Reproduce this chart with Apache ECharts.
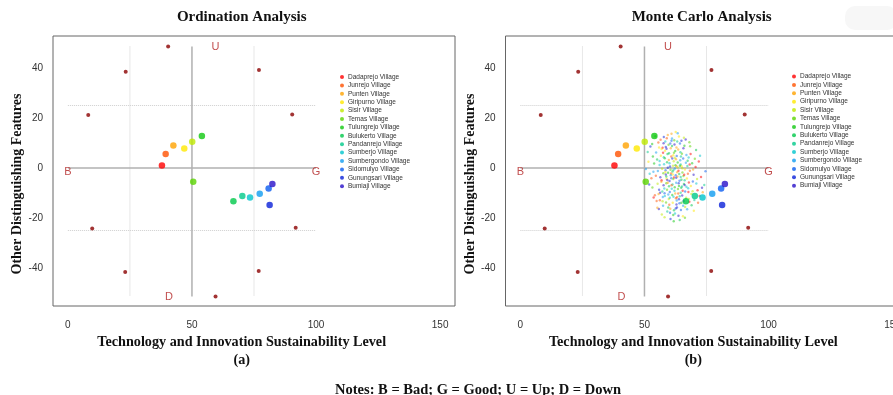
<!DOCTYPE html>
<html>
<head>
<meta charset="utf-8">
<script src="https://cdn.jsdelivr.net/npm/echarts@6/dist/echarts.min.js"></script>
<style>
  html, body { margin: 0; padding: 0; background: #fff; }
  #main { width: 893px; height: 395px; }
</style>
</head>
<body>
<div id="main"></div>
<script>
// village positions (same for both panels)
var villages = ['Dadaprejo Village', 'Junrejo Village', 'Punten Village', 'Giripurno Village', 'Sisir Village',
    'Temas Village', 'Tulungrejo Village', 'Bulukerto Village', 'Pandanrejo Village', 'Sumberjo Village',
    'Sumbergondo Village', 'Sidomulyo Village', 'Gunungsari Village', 'Bumiaji Village'];
var villageX = [37.9, 39.4, 42.5, 46.9, 50.1, 50.5, 54.0, 66.7, 70.3, 73.4, 77.3, 80.9, 81.3, 82.4];
var villageY = [1.0, 5.6, 9.0, 7.8, 10.5, -5.5, 12.8, -13.3, -11.2, -11.8, -10.3, -8.2, -14.8, -6.4];
var villageColors = ['#FF0000', '#FF5100', '#FFA200', '#FFE800', '#BFEA00', '#5AD400', '#10C810',
    '#00C84A', '#00C98A', '#00C4CC', '#109CF0', '#0A5CF0', '#0A20D8', '#2810C8'];

// anchor points
var anchorX = [40.4, 23.3, 77.0, 8.2, 90.4, 9.8, 91.8, 23.1, 76.9, 59.5];
var anchorY = [48.6, 38.5, 39.2, 21.2, 21.4, -24.2, -23.9, -41.6, -41.2, -51.4];

// anchor letters
var letters = ['B', 'G', 'U', 'D'];
var letterX = [0, 100, 59.5, 40.7];
var letterY = [-1.5, -1.5, 48.6, -51.6];

// reference lines
var solidLines = [[[50, 48.6], [50, -51.4]], [[0, 0], [100, 0]]];
var dottedLines = [[[25, 48.6], [25, -51.4]], [[75, 48.6], [75, -51.4]], [[0, 25], [100, 25]], [[0, -25], [100, -25]]];

// ticks
var xTicks = [0, 50, 100, 150];
var yTicks = [-40, -20, 0, 20, 40];

// monte carlo cloud (estimated by eye)
var cloud = [[57.3,8.1],[60.8,4.6],[63.2,-1.7],[58.9,-4.3],[61.5,0.9],[65.7,-3.2],[62.4,6.8],[59.1,2.3],[64.6,1.4],[66.9,-7.5],
    [55.4,-1.2],[60.2,-9.6],[63.8,-6.1],[57.7,-6.9],[61.9,-3.8],[68.3,-1.1],[62.7,3.5],[56.6,4.9],[59.8,-12.4],[65.1,5.7],
    [53.9,1.8],[67.4,2.9],[64.2,-11.3],[58.4,10.6],[61.1,11.8],[69.5,-5.4],[55.9,-8.7],[62.9,-14.6],[70.6,0.4],[52.8,-4.1],
    [60.6,7.9],[66.3,-0.6],[57.1,-0.3],[63.5,-8.4],[59.5,-1.9],[64.9,-4.7],[61.3,-6.6],[67.8,4.2],[54.7,6.2],[58.1,-10.1],
    [65.8,-13.2],[62.1,9.4],[71.4,-8.9],[56.2,-12.9],[60.4,-16.3],[63.9,12.6],[68.9,-10.4],[53.2,-7.8],[66.1,8.9],[59.3,5.6],
    [61.7,-0.8],[57.9,1.5],[64.4,3.1],[62.6,-2.9],[60.1,-5.2],[58.6,-2.6],[65.4,-9.1],[63.1,-11.7],[56.8,-5.5],[67.1,-4.2],
    [61.8,2.7],[59.7,9.3],[69.2,1.9],[55.1,3.4],[70.1,-12.8],[62.3,-18.2],[57.5,-15.1],[64.7,-16.8],[52.4,8.6],[66.6,11.4],
    [72.8,-3.6],[54.2,-10.9],[60.9,13.7],[58.3,6.9],[63.4,0.2],[65.3,-1.8],[61.2,-10.8],[59.9,-7.3],[57.2,-9.4],[67.6,-8.1],
    [62.8,-5.9],[64.1,-14.1],[60.3,0.6],[56.4,-3.7],[68.6,5.6],[55.6,10.2],[63.6,7.4],[61.6,5.1],[66.8,-11.9],[58.7,-13.8],
    [62.2,-7.7],[65.9,-6.4],[59.2,-17.4],[70.9,-6.2],[53.6,-1.5],[64.3,9.8],[57.8,12.4],[69.8,-2.7],[71.9,2.6],[60.7,-2.2],
    [63.3,-3.4],[61.4,-13.9],[66.4,-15.6],[58.8,-6.1],[62.5,1.1],[64.8,-7.9],[67.3,0.8],[56.1,1.2],[59.6,-10.6],[65.6,3.8],
    [60.5,-20.4],[63.7,-19.1],[68.1,-13.5],[54.9,-13.2],[73.5,-9.7],[51.6,2.5],[55.3,-6.3],[62.0,11.1],[58.2,3.9],[64.0,-2.4],
    [66.2,-4.9],[61.0,-8.3],[57.4,-11.6],[63.0,4.8],[59.4,0.1],[65.2,-11.0],[67.9,-5.8],[60.0,-14.7],[62.4,-10.2],[56.9,7.6],
    [69.4,-9.3],[70.3,3.7],[53.4,4.6],[61.9,-16.9],[64.5,6.3],[58.0,-8.2],[66.7,2.1],[60.8,-4.1],[63.9,-12.5],[55.8,-16.4],
    [72.2,-11.2],[59.0,11.9],[62.9,8.2],[65.5,-19.3],[57.0,-18.6],[68.4,8.7],[54.4,12.7],[61.3,-1.4],[64.6,-9.9],[60.2,-11.9],
    [67.2,-16.5],[58.5,-0.9],[63.1,-15.8],[56.3,-9.9],[66.0,-2.7],[62.7,-12.1],[59.8,3.2],[65.0,0.7],[71.2,-4.4],[57.6,-2.1],
    [61.6,-18.8],[69.0,-14.9],[74.1,-6.8],[52.1,-2.3],[63.4,13.9],[60.4,9.8],[64.9,10.9],[58.9,7.7],[67.7,-9.6],
    [56.5,11.3],[59.4,13.2],[62.6,14.4],[65.9,12.1],[68.1,10.3],[53.1,9.6],[70.8,7.2],[51.3,6.4],[72.4,4.9],[50.6,-0.4],
    [74.6,-1.3],[51.9,-6.6],[73.2,-7.9],[53.7,-11.8],[71.6,-13.9],[55.2,-15.9],[69.9,-17.1],[58.1,-19.7],[66.3,-19.9],[61.8,-21.3],
    [64.2,-20.8],[57.8,4.3],[60.1,1.9],[62.3,-0.2],[64.1,-5.1],[61.2,3.8],[59.2,-4.8],[63.7,-1.1],[60.9,-6.9],[62.9,0.7],
    [58.4,-1.6],[65.2,-0.1],[61.6,-4.4],[63.4,2.2],[59.9,5.9],[64.6,-3.6],[62.1,-9.1],[60.6,-2.9],[66.4,-9.4],[58.6,8.4],
    [65.7,7.9],[56.9,-4.9],[67.5,-2.3],[55.7,-10.4],[68.7,-7.2],[57.3,-13.3],[61.9,6.1],[64.9,-13.9],[59.6,-15.8],[63.2,10.6],
    [56.1,2.8],[66.9,5.2],[60.3,-17.9],[62.6,-16.2],[57.7,9.9],[68.2,1.4],[54.6,-3.1],[69.6,-0.6],[55.9,8.2],[67.9,-12.4],
    [59.1,-8.7],[63.9,-7.2],[61.1,8.8],[64.7,4.6],[58.2,-11.2],[65.6,-15.1],[60.9,10.9],[62.8,-3.9],[66.2,-6.8],[57.5,6.1],
    [63.6,-10.2],[59.4,-5.9],[61.4,-2.6],[62.2,4.1],[60.5,-0.7],[64.3,0.9],[58.8,-3.4],[65.1,-7.4],[61.7,-11.5],[63.0,-13.0]];

var sans = 'Liberation Sans, Arial, sans-serif';
var serif = 'Liberation Serif, Times New Roman, serif';

function pairs(xs, ys) {
    return xs.map(function (x, i) { return [x, ys[i]]; });
}

function panelSeries(g, withCloud) {
    var s = [];
    if (withCloud) {
        s.push({
            type: 'scatter', xAxisIndex: g, yAxisIndex: g, data: cloud, symbolSize: 2.4, z: 3,
            itemStyle: { color: function (p) { return villageColors[p.dataIndex % villageColors.length]; }, opacity: 0.5 },
            silent: true
        });
    }
    solidLines.forEach(function (l) {
        s.push({ type: 'line', xAxisIndex: g, yAxisIndex: g, data: l, symbol: 'none', silent: true, z: 2,
            lineStyle: { color: '#b0b0b0', width: 1.5 } });
    });
    dottedLines.forEach(function (l) {
        s.push({ type: 'line', xAxisIndex: g, yAxisIndex: g, data: l, symbol: 'none', silent: true, z: 1,
            lineStyle: { color: '#cfcfcf', width: 1, type: 'dotted' } });
    });
    s.push({ type: 'scatter', xAxisIndex: g, yAxisIndex: g, data: pairs(anchorX, anchorY), symbolSize: 4,
        itemStyle: { color: '#8B0000' }, silent: true });
    s.push({ type: 'scatter', xAxisIndex: g, yAxisIndex: g, symbolSize: 0, silent: true,
        data: letters.map(function (t, i) { return { value: [letterX[i], letterY[i]], name: t }; }),
        label: { show: true, position: 'inside', formatter: '{b}', color: '#B22222', fontSize: 11, fontFamily: sans } });
    villages.forEach(function (v, i) {
        s.push({ type: 'scatter', name: v, xAxisIndex: g, yAxisIndex: g, data: [[villageX[i], villageY[i]]],
            symbolSize: 6.5, z: 5, itemStyle: { color: villageColors[i] } });
    });
    return s;
}

function xAxis(g) {
    return {
        type: 'value', gridIndex: g, min: -6, max: 156,
        axisLine: { show: false }, axisTick: { show: false }, splitLine: { show: false },
        axisLabel: { customValues: xTicks, color: '#333', fontSize: 10, fontFamily: sans, margin: 14 }
    };
}

function yAxis(g) {
    return {
        type: 'value', gridIndex: g, min: -55.2, max: 52.8,
        axisLine: { show: false }, axisTick: { show: false }, splitLine: { show: false },
        axisLabel: { customValues: yTicks, color: '#333', fontSize: 10, fontFamily: sans, margin: 10 }
    };
}

function legend(left, top) {
    return {
        orient: 'vertical', left: left, top: top, data: villages, icon: 'circle',
        itemWidth: 4, itemHeight: 4, itemGap: 0.4, selectedMode: false, padding: 0,
        textStyle: { fontSize: 6.5, lineHeight: 8, color: '#333', fontFamily: sans, padding: [0, 0, 0, -1] }
    };
}

function txt(t, x, y, size, rot) {
    return { type: 'text', x: x, y: y, rotation: rot || 0, silent: true,
        style: { text: t, font: 'bold ' + size + 'px ' + serif, fill: '#111', align: 'center', verticalAlign: 'middle', lineHeight: 18 } };
}

var myChart = echarts.init(document.getElementById('main'));
var option = {
    animation: false,
    grid: [
        { left: 53, top: 36, width: 402, height: 270, show: true, borderColor: '#666', borderWidth: 1, outerBoundsMode: 'none' },
        { left: 505.5, top: 36, width: 402, height: 270, show: true, borderColor: '#666', borderWidth: 1, outerBoundsMode: 'none' }
    ],
    xAxis: [xAxis(0), xAxis(1)],
    yAxis: [yAxis(0), yAxis(1)],
    legend: [legend(340, 73), legend(792, 72.5)],
    graphic: [
        { type: 'rect', shape: { x: 845, y: 6, width: 52, height: 24, r: 10 }, style: { fill: '#f7f7f7' }, silent: true },
        txt('Ordination Analysis', 241.7, 17, 15),
        txt('Monte Carlo Analysis', 701.7, 17, 15),
        txt('Technology and Innovation Sustainability Level\n(a)', 241.7, 351, 14.2),
        txt('Technology and Innovation Sustainability Level\n(b)', 693.3, 351, 14.2),
        txt('Other Distinguishing Features', 17.5, 184, 14, Math.PI / 2),
        txt('Other Distinguishing Features', 470, 184, 14, Math.PI / 2),
        txt('Notes: B = Bad; G = Good; U = Up; D = Down', 478, 390.5, 14.5)
    ],
    series: panelSeries(0, false).concat(panelSeries(1, true))
};
myChart.setOption(option);
</script>
</body>
</html>
